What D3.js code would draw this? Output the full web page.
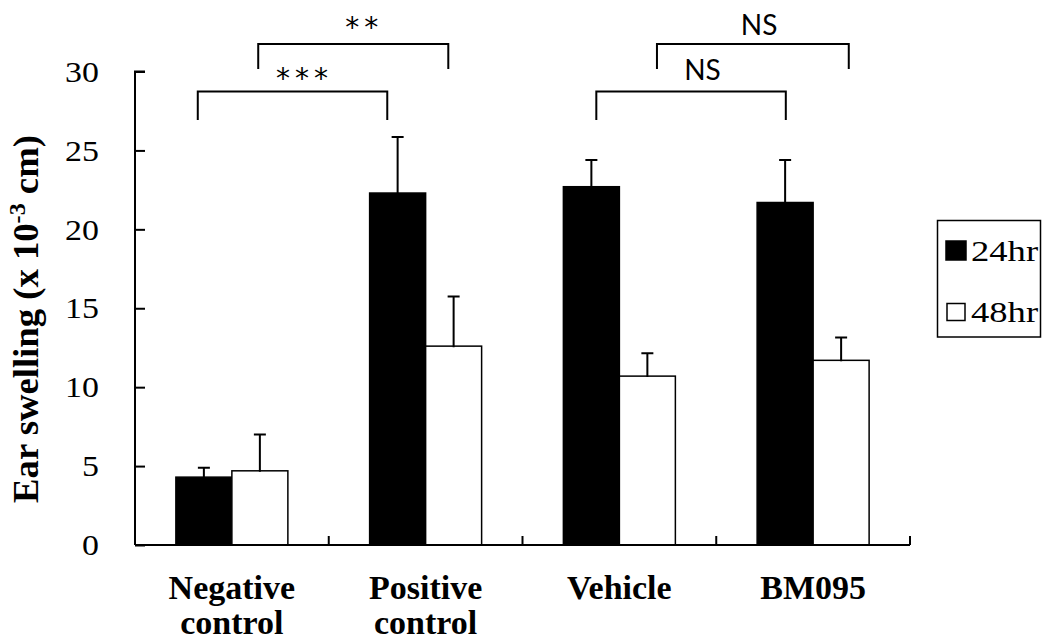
<!DOCTYPE html>
<html>
<head>
<meta charset="utf-8">
<script src="https://cdn.jsdelivr.net/npm/d3@7/dist/d3.min.js"></script>
<style>
  html, body { margin: 0; padding: 0; background: #fff; }
  svg { display: block; }
</style>
</head>
<body>
<svg id="chart" width="1044" height="640"></svg>
<script>
// ---- data ----
const categories = [["Negative", "control"], ["Positive", "control"], ["Vehicle"], ["BM095"]];
const categoryKeys = ["Negative control", "Positive control", "Vehicle", "BM095"];
const series = ["24hr", "48hr"];
const values24 = [4.3, 22.3, 22.7, 21.7];
const errors24 = [0.6, 3.55, 1.7, 2.7];
const values48 = [4.7, 12.6, 10.7, 11.7];
const errors48 = [2.3, 3.15, 1.45, 1.45];
const yTicks = [0, 5, 10, 15, 20, 25, 30];
// significance brackets: positions in category units (0..4), heights in data units
const brackets = [
  { x1: 0.324, x2: 1.302, top: 28.73, leg: 26.93, label: "***", lx: 0.862, ly: 28.96 },
  { x1: 0.636, x2: 1.617, top: 31.75, leg: 30.16, label: "**", lx: 1.170, ly: 32.19 },
  { x1: 2.381, x2: 3.359, top: 28.73, leg: 26.93, label: "NS", lx: 2.929, ly: 29.46 },
  { x1: 2.694, x2: 3.684, top: 31.75, leg: 30.16, label: "NS", lx: 3.221, ly: 32.31 }
];

// ---- layout ----
const svg = d3.select("#chart");
const mLeft = 135, mRight = 910, mTop = 71.5, mBottom = 545;
const serif = "'Liberation Serif', 'Times New Roman', serif";

const x = d3.scaleBand().domain(categoryKeys).range([mLeft, mRight]).paddingInner(0).paddingOuter(0);
const xPos = d3.scaleLinear().domain([0, categoryKeys.length]).range([mLeft, mRight]);
const bw = x.bandwidth();
const x1 = d3.scaleBand().domain(series).range([bw * 0.211, bw * 0.789]).padding(0);
const y = d3.scaleLinear().domain([0, 30]).range([mBottom, mTop]);

const rows = categoryKeys.map((c, i) => ({
  cat: c,
  vals: [
    { s: "24hr", v: values24[i], e: errors24[i] },
    { s: "48hr", v: values48[i], e: errors48[i] }
  ]
}));

// ---- bars ----
const g = svg.append("g");
const groups = g.selectAll("g.grp").data(rows).join("g")
  .attr("class", "grp")
  .attr("transform", d => `translate(${x(d.cat)},0)`);

groups.selectAll("rect").data(d => d.vals).join("rect")
  .attr("x", d => x1(d.s))
  .attr("y", d => y(d.v))
  .attr("width", x1.bandwidth())
  .attr("height", d => y(0) - y(d.v))
  .attr("fill", d => d.s === "24hr" ? "#000" : "#fff")
  .attr("stroke", "#000")
  .attr("stroke-width", 1.5);

// error bars (upper only)
const capW = 12;
groups.selectAll("path.err").data(d => d.vals).join("path")
  .attr("class", "err")
  .attr("d", d => {
    const cx = x1(d.s) + x1.bandwidth() / 2;
    const y0 = y(d.v), y1 = y(d.v + d.e);
    return `M${cx},${y0 + 1}V${y1}M${cx - capW / 2},${y1}H${cx + capW / 2}`;
  })
  .attr("fill", "none")
  .attr("stroke", "#000")
  .attr("stroke-width", 2);

// ---- axes ----
const yAxis = d3.axisRight(y).tickValues(yTicks).tickSize(10).tickFormat("");
const ya = svg.append("g").attr("transform", `translate(${mLeft},0)`).call(yAxis);
ya.select(".domain").attr("d", `M0,${y(0)}V${y(30)}H10`).attr("stroke-width", 2);
ya.selectAll(".tick line").attr("stroke-width", 2);

svg.append("g").selectAll("text").data(yTicks).join("text")
  .attr("transform", d => `translate(99,${y(d)}) scale(1.13,1)`)
  .attr("dy", "0.34em")
  .attr("text-anchor", "end")
  .attr("font-family", serif)
  .attr("font-size", 30)
  .text(d => d);

const xa = svg.append("g").attr("transform", `translate(0,${mBottom})`);
xa.append("path").attr("d", `M${mLeft},0H${mRight}`).attr("stroke", "#000").attr("stroke-width", 2).attr("fill", "none");
xa.selectAll("line").data(d3.range(categoryKeys.length + 1)).join("line")
  .attr("x1", d => xPos(d)).attr("x2", d => xPos(d))
  .attr("y1", 0).attr("y2", -9)
  .attr("stroke", "#000").attr("stroke-width", 2);

// category labels
const catText = svg.append("g").selectAll("text").data(categories).join("text")
  .attr("x", (d, i) => x(categoryKeys[i]) + bw / 2)
  .attr("y", 599)
  .attr("text-anchor", "middle")
  .attr("font-family", serif)
  .attr("font-weight", "bold")
  .attr("font-size", 34);
catText.selectAll("tspan").data(d => d).join("tspan")
  .attr("x", function () { return d3.select(this.parentNode).attr("x"); })
  .attr("dy", (d, i) => i === 0 ? 0 : 35)
  .text(d => d);

// y title
const yt = svg.append("text")
  .attr("text-anchor", "middle")
  .attr("font-family", serif)
  .attr("font-weight", "bold")
  .attr("font-size", 35);
yt.append("tspan").text("Ear swelling (x 10");
yt.append("tspan").attr("dy", -13).attr("font-size", 23).text("-3");
yt.append("tspan").attr("dy", 13).text(" cm)");
{
  const w = yt.node().getBBox().width;
  const k = 368 / w;
  yt.attr("transform", `translate(38,319) rotate(-90) scale(${k},1)`);
}

// ---- brackets ----
const br = svg.append("g");
br.selectAll("path").data(brackets).join("path")
  .attr("d", d => `M${xPos(d.x1)},${y(d.leg)}V${y(d.top)}H${xPos(d.x2)}V${y(d.leg)}`)
  .attr("fill", "none")
  .attr("stroke", "#000")
  .attr("stroke-width", 2);
br.selectAll("text").data(brackets).join("text")
  .attr("x", d => xPos(d.lx) + (d.label === "NS" ? 0 : 2.5))
  .attr("y", d => y(d.ly))
  .attr("text-anchor", "middle")
  .attr("font-family", d => d.label === "NS" ? "Lato, 'Open Sans', sans-serif" : "'DejaVu Sans', sans-serif")
  .attr("font-size", d => d.label === "NS" ? 28 : 28)
  .attr("letter-spacing", d => d.label === "NS" ? 0 : 5)
  .text(d => d.label);

// ---- legend ----
const lg = svg.append("g");
lg.append("rect").attr("x", 937.5).attr("y", 220.5).attr("width", 103).attr("height", 116.5)
  .attr("fill", "#fff").attr("stroke", "#000").attr("stroke-width", 1.5);
const items = lg.selectAll("g.it").data(series).join("g").attr("class", "it");
items.append("rect")
  .attr("x", (d, i) => i === 0 ? 946 : 947)
  .attr("y", (d, i) => i === 0 ? 241 : 303.5)
  .attr("width", (d, i) => i === 0 ? 20 : 18)
  .attr("height", (d, i) => i === 0 ? 19 : 17)
  .attr("fill", (d, i) => i === 0 ? "#000" : "#fff")
  .attr("stroke", "#000").attr("stroke-width", 1.5);
items.append("text")
  .attr("transform", (d, i) => `translate(971,${i === 0 ? 260.5 : 321.5}) scale(1.22,1)`)
  .attr("font-family", serif)
  .attr("font-size", 30)
  .text(d => d);
</script>
</body>
</html>
